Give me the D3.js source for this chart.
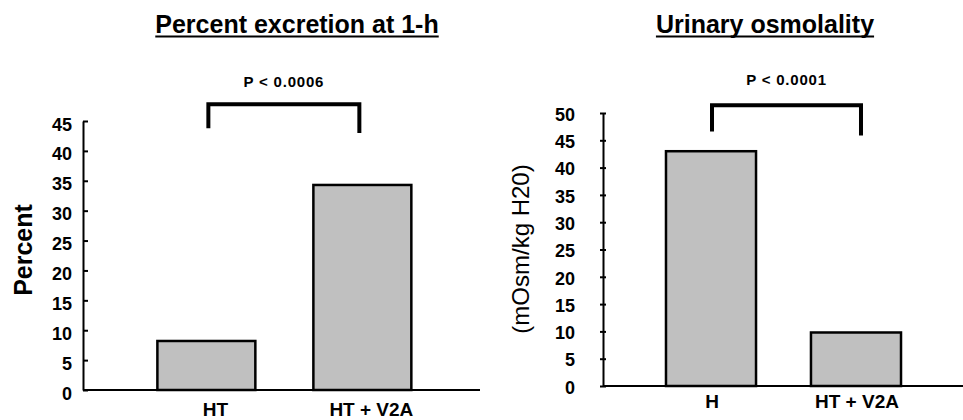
<!DOCTYPE html>
<html>
<head>
<meta charset="utf-8">
<script src="https://cdn.jsdelivr.net/npm/d3@7"></script>
<style>
  body { margin: 0; background: #fff; }
  svg { display: block; font-family: "Liberation Sans", Arial, sans-serif; }
</style>
</head>
<body>
<svg id="chart" width="963" height="420"></svg>
<script>
// left panel data
var excretionCats = ["HT", "HT + V2A"];
var excretionVals = [8.2, 34.3];
var excretionTicks = [0, 5, 10, 15, 20, 25, 30, 35, 40, 45];
var excretionSig = {label: "P < 0.0006", top: 47.8, legs: [43.8, 43.0]};

// right panel data
var osmoCats = ["H", "HT + V2A"];
var osmoVals = [43.0, 9.8];
var osmoTicks = [0, 5, 10, 15, 20, 25, 30, 35, 40, 45, 50];
var osmoSig = {label: "P < 0.0001", top: 51.4, legs: [46.6, 45.9]};

var svg = d3.select("#chart");

function drawPanel(arg) {
  var g = svg.append("g");

  var x = d3.scaleBand()
      .domain(arg.cats)
      .range([arg.left, arg.right])
      .paddingInner(arg.padIn)
      .paddingOuter(arg.padOut)
      .align(arg.align);

  var y = d3.scaleLinear()
      .domain([0, arg.max])
      .range([arg.bottom, arg.top]);

  // bars
  g.selectAll("rect.bar")
      .data(arg.vals)
      .enter().append("rect")
      .attr("class", "bar")
      .attr("x", function(d, i) { return x(arg.cats[i]); })
      .attr("y", function(d) { return y(d); })
      .attr("width", x.bandwidth())
      .attr("height", function(d) { return y(0) - y(d); })
      .attr("fill", "#c0c0c0")
      .attr("stroke", "#000")
      .attr("stroke-width", 2.5);

  // y axis
  var ya = g.append("g")
      .attr("transform", "translate(" + arg.left + ",0)")
      .call(d3.axisLeft(y).tickValues(arg.ticks).tickSize(0).tickPadding(arg.labelPad));
  ya.select(".domain").attr("stroke", "#000").attr("stroke-width", 2);
  ya.selectAll(".tick line")
      .attr("x1", arg.tickIn ? 0 : -3)
      .attr("x2", arg.tickIn ? 5 : 3)
      .attr("stroke", "#000")
      .attr("stroke-width", 2);
  ya.selectAll(".tick text")
      .attr("font-size", 18)
      .attr("font-weight", "bold")
      .attr("fill", "#000")
      .attr("dy", arg.tickDy);

  // x axis line
  g.append("line")
      .attr("x1", arg.left).attr("x2", arg.axisEnd)
      .attr("y1", y(0)).attr("y2", y(0))
      .attr("stroke", "#000").attr("stroke-width", 2);

  // category labels
  g.selectAll("text.cat")
      .data(arg.cats)
      .enter().append("text")
      .attr("class", "cat")
      .attr("x", function(d) { return x(d) + x.bandwidth() / 2 + arg.catDx; })
      .attr("y", arg.catY)
      .attr("text-anchor", "middle")
      .attr("font-size", 19)
      .attr("font-weight", "bold")
      .text(function(d) { return d; });

  // significance bracket
  var c0 = x(arg.cats[0]) + x.bandwidth() / 2 + arg.legDx[0];
  var c1 = x(arg.cats[1]) + x.bandwidth() / 2 + arg.legDx[1];
  var line = d3.line();
  g.append("path")
      .attr("d", line([[c0, y(arg.sig.legs[0])], [c0, y(arg.sig.top)], [c1, y(arg.sig.top)], [c1, y(arg.sig.legs[1])]]))
      .attr("fill", "none")
      .attr("stroke", "#000")
      .attr("stroke-width", 4);
  g.append("text")
      .attr("x", (c0 + c1) / 2 + arg.pDx)
      .attr("y", y(arg.sig.top) - arg.pGap)
      .attr("text-anchor", "middle")
      .attr("font-size", 15)
      .attr("font-weight", "bold")
      .attr("letter-spacing", 0.8)
      .text(arg.sig.label);

  // title with underline
  var t = g.append("text")
      .attr("x", arg.titleX)
      .attr("y", 33)
      .attr("text-anchor", "middle")
      .attr("font-size", 25)
      .attr("font-weight", "bold")
      .text(arg.title);
  var tw = t.node().getComputedTextLength();
  g.append("line")
      .attr("x1", arg.titleX - tw / 2).attr("x2", arg.titleX + tw / 2)
      .attr("y1", 36.5).attr("y2", 36.5)
      .attr("stroke", "#000").attr("stroke-width", 2);

  // y axis title
  g.append("text")
      .attr("transform", "translate(" + arg.yLabelX + "," + arg.yLabelY + ") rotate(-90)")
      .attr("text-anchor", "middle")
      .attr("font-size", arg.yLabelSize)
      .attr("font-weight", arg.yLabelWeight)
      .text(arg.yLabel);
}

drawPanel({
  cats: excretionCats, vals: excretionVals, ticks: excretionTicks, sig: excretionSig,
  max: 45, left: 83, right: 480, axisEnd: 480, top: 121, bottom: 390,
  padIn: 0.372, padOut: 0.4585, align: 0.52,
  tickIn: true, labelPad: 11, tickDy: "0.5em",
  catDx: 9, catY: 416, legDx: [2, -3], pDx: 0, pGap: 17,
  title: "Percent excretion at 1-h", titleX: 297,
  yLabel: "Percent", yLabelX: 32, yLabelY: 250, yLabelSize: 25, yLabelWeight: "bold"
});

drawPanel({
  cats: osmoCats, vals: osmoVals, ticks: osmoTicks, sig: osmoSig,
  max: 50, left: 603, right: 963, axisEnd: 963, top: 113, bottom: 386,
  padIn: 0.379, padOut: 0.431, align: 0.504,
  tickIn: false, labelPad: 28, tickDy: "0.4em",
  catDx: 1, catY: 408, legDx: [1, 5], pDx: 0, pGap: 20,
  title: "Urinary osmolality", titleX: 765,
  yLabel: "(mOsm/kg H20)", yLabelX: 529, yLabelY: 249, yLabelSize: 24, yLabelWeight: "normal"
});
</script>
</body>
</html>
